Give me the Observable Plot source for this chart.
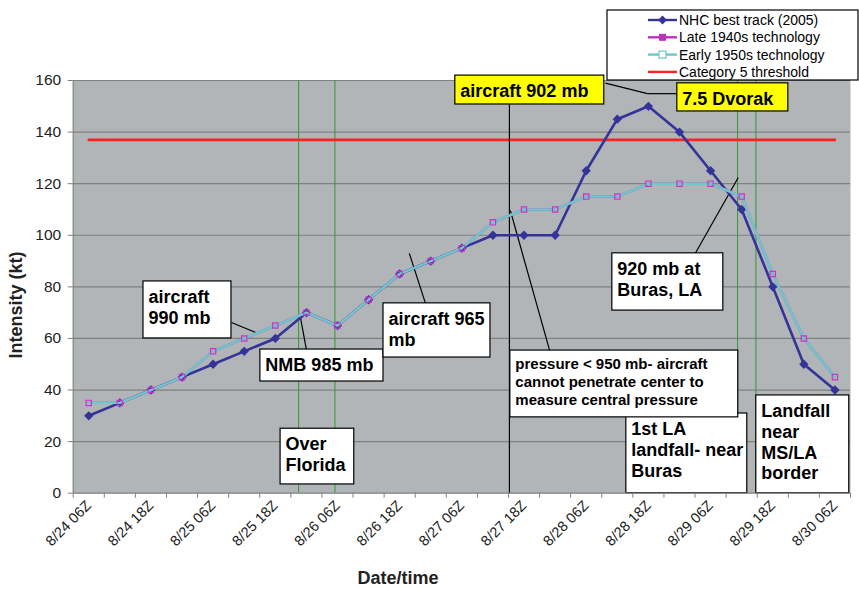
<!DOCTYPE html>
<html><head><meta charset="utf-8">
<script src="https://cdn.jsdelivr.net/npm/d3@7"></script>
<script src="https://cdn.jsdelivr.net/npm/@observablehq/plot@0.6"></script>
<style>
body{margin:0;background:#fff;}
#chart{width:859px;height:590px;}
svg{font-family:"Liberation Sans",Arial,sans-serif;}
</style></head><body><div id="chart"></div>
<script>
// ---- data ----
const times = ["8/24 06Z","8/24 12Z","8/24 18Z","8/25 00Z","8/25 06Z","8/25 12Z","8/25 18Z","8/26 00Z","8/26 06Z","8/26 12Z","8/26 18Z","8/27 00Z","8/27 06Z","8/27 12Z","8/27 18Z","8/28 00Z","8/28 06Z","8/28 12Z","8/28 18Z","8/29 00Z","8/29 06Z","8/29 12Z","8/29 18Z","8/30 00Z","8/30 06Z"];
const nhcBestTrack = [30,35,40,45,50,55,60,70,65,75,85,90,95,100,100,100,125,145,150,140,125,110,80,50,40];
const late1940s   = [35,35,40,45,55,60,65,70,65,75,85,90,95,105,110,110,115,115,120,120,120,115,85,60,45];
const early1950s  = [35,35,40,45,55,60,65,70,65,75,85,90,95,105,110,110,115,115,120,120,120,115,85,60,45];
const category5 = 137;
const tickLabels = ["8/24 06Z","8/24 18Z","8/25 06Z","8/25 18Z","8/26 06Z","8/26 18Z","8/27 06Z","8/27 18Z","8/28 06Z","8/28 18Z","8/29 06Z","8/29 18Z","8/30 06Z"];
const yTicks = [0,20,40,60,80,100,120,140,160];
const seriesNames = ["NHC best track (2005)","Late 1940s technology","Early 1950s technology","Category 5 threshold"];
// event times, hours after 8/24 06Z (green lines)
const eventHours = [40.5, 47.5, 125.2, 128.75];

// annotations (x in 6-hourly steps from 8/24 06Z, y in kt)
const notesBig = [
  {x1:1.76, x2:4.59, y1:82.1, y2:60.0, text:"aircraft\n990 mb", fill:"white"},
  {x1:5.52, x2:9.48, y1:55.7, y2:43.3, text:"NMB 985 mb", fill:"white"},
  {x1:9.48, x2:12.92, y1:73.6, y2:52.6, text:"aircraft 965\nmb", fill:"white"},
  {x1:11.79, x2:16.58, y1:161.9, y2:150.7, text:"aircraft 902 mb", fill:"#ffff00"},
  {x1:18.93, x2:22.5, y1:158.9, y2:148.0, text:"7.5 Dvorak", fill:"#ffff00"},
  {x1:16.84, x2:20.41, y1:93.0, y2:70.8, text:"920 mb at\nBuras, LA", fill:"white"},
  {x1:17.29, x2:21.18, y1:30.9, y2:0, text:"1st LA\nlandfall- near\nBuras", fill:"white"},
  {x1:21.47, x2:24.46, y1:37.9, y2:0, text:"Landfall\nnear\nMS/LA\nborder", fill:"white"},
  {x1:6.17, x2:8.54, y1:25.0, y2:3.4, text:"Over\nFlorida", fill:"white"}
];
const notesSmall = [
  {x1:13.56, x2:20.89, y1:55.3, y2:29.4, text:"pressure < 950 mb- aircraft\ncannot penetrate center to\nmeasure central pressure", fill:"white"}
];
const leaders = [
  {x1:4.59, y1:66.2, x2:5.43, y2:62.0},
  {x1:7.0, y1:55.7, x2:6.81, y2:68.1},
  {x1:10.83, y1:73.6, x2:10.31, y2:93.0},
  {x1:16.62, y1:159.0, x2:17.97, y2:154.9},
  {x1:17.97, y1:154.9, x2:18.93, y2:154.9},
  {x1:13.53, y1:150.7, x2:13.53, y2:0},
  {x1:19.51, y1:93.0, x2:20.89, y2:122.4},
  {x1:13.56, y1:109.6, x2:14.85, y2:54.2}
];

const rows = times.map((t,i)=>({i, t, nhc:nhcBestTrack[i], late:late1940s[i], early:early1950s[i], cat5:category5}));
const C = {nhc:"#333399", late:"#bb33bb", early:"#6cc9cc", cat5:"#ff2020", grid:"#7e8081", green:"#3d9a3d"};
const font = "Liberation Sans, Arial, sans-serif";

const plot = Plot.plot({
  width:859, height:590,
  marginLeft:72.7, marginRight:9, marginTop:80, marginBottom:97.3,
  x:{type:"linear", domain:[-0.5,24.5]},
  y:{domain:[0,160]},
  style:{fontFamily:font, background:"white", overflow:"visible", color:"#222"},
  marks:[
    Plot.frame({fill:"#b2b5b7", stroke:null}),
    Plot.ruleY(yTicks.filter(v=>v>0), {stroke:C.grid, strokeWidth:1.2}),
    Plot.ruleX(eventHours, {x:d=>d/6, stroke:C.green, strokeWidth:1.1}),
    Plot.line(rows, {x:"i", y:"cat5", stroke:C.cat5, strokeWidth:2.6}),
    Plot.link(leaders, {x1:"x1", y1:"y1", x2:"x2", y2:"y2", stroke:"black", strokeWidth:1.2}),
    Plot.line(rows, {x:"i", y:"nhc", stroke:C.nhc, strokeWidth:2.6}),
    Plot.dot(rows, {x:"i", y:"nhc", symbol:"diamond2", r:4.2, fill:C.nhc, stroke:null}),
    Plot.line(rows, {x:"i", y:"late", stroke:C.late, strokeWidth:2.4}),
    Plot.line(rows, {x:"i", y:"early", stroke:C.early, strokeWidth:2.4}),
    Plot.dot(rows, {x:"i", y:"late", symbol:"square", r:3, fill:"none", stroke:"#cc33cc", strokeWidth:1.2}),
    Plot.rect(notesBig, {x1:"x1", x2:"x2", y1:"y1", y2:"y2", fill:"fill", stroke:"black", strokeWidth:1.2}),
    Plot.rect(notesSmall, {x1:"x1", x2:"x2", y1:"y1", y2:"y2", fill:"fill", stroke:"black", strokeWidth:1.2}),
    Plot.text(notesBig, {x:"x1", y:"y1", text:"text", textAnchor:"start", lineAnchor:"top", dx:5, dy:7, fontSize:18, fontWeight:"bold", lineHeight:1.15, fill:"black"}),
    Plot.text(notesSmall, {x:"x1", y:"y1", text:"text", textAnchor:"start", lineAnchor:"top", dx:5, dy:6, fontSize:15, fontWeight:"bold", lineHeight:1.2, fill:"black"}),
    Plot.ruleX([-0.5], {stroke:"#808080", strokeWidth:1.2}),
    Plot.ruleY([0], {stroke:"#808080", strokeWidth:1.2}),
    Plot.axisY({ticks:yTicks, tickSize:5, tickPadding:7, fontSize:15.5, stroke:"#808080", label:null}),
    Plot.axisX({ticks:d3.range(-0.5,25,1), tickSize:5, tickFormat:()=>"", stroke:"#808080", label:null}),
    Plot.axisX({ticks:tickLabels.map(l=>times.indexOf(l)), tickFormat:i=>times[i], tickSize:0, tickPadding:10, tickRotate:-45, fontSize:14.5, label:null})
  ]
});
document.getElementById("chart").appendChild(plot);

const svg = d3.select(plot);
// axis titles
svg.append("text").attr("transform","translate(22,305) rotate(-90)").attr("text-anchor","middle")
  .attr("font-size",18).attr("font-weight","bold").attr("fill","#222").attr("font-family",font).text("Intensity (kt)");
svg.append("text").attr("x",398).attr("y",584).attr("text-anchor","middle")
  .attr("font-size",18).attr("font-weight","bold").attr("fill","#222").attr("font-family",font).text("Date/time");
// legend
const lg = svg.append("g").attr("font-family",font).attr("font-size",14).attr("text-anchor","start");
lg.append("rect").attr("x",607).attr("y",10).attr("width",251).attr("height",70).attr("fill","white").attr("stroke","black").attr("stroke-width",1.2);
const lcol = [C.nhc, C.late, C.early, C.cat5];
seriesNames.forEach((name,k)=>{
  const y = 20 + k*17.3;
  lg.append("line").attr("x1",648).attr("x2",677).attr("y1",y).attr("y2",y).attr("stroke",lcol[k]).attr("stroke-width",2.4);
  if(k===0) lg.append("path").attr("d",d3.symbol(d3.symbolDiamond2, 50)()).attr("transform",`translate(662.5,${y})`).attr("fill",C.nhc);
  if(k===1) lg.append("rect").attr("x",659).attr("y",y-3.5).attr("width",7).attr("height",7).attr("fill",C.late);
  if(k===2) lg.append("rect").attr("x",659).attr("y",y-3.5).attr("width",7).attr("height",7).attr("fill","white").attr("stroke",C.early).attr("stroke-width",1.2);
  lg.append("text").attr("x",679).attr("y",y).attr("dy","0.36em").attr("text-anchor","start").attr("fill","black").text(name);
});
</script></body></html>
